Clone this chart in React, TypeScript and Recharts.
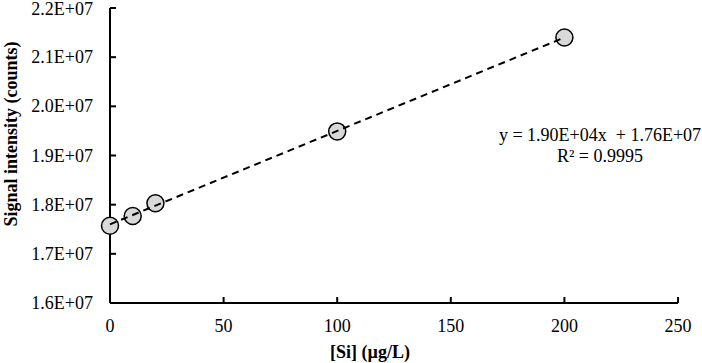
import { Scatter, ScatterChart, XAxis, YAxis } from 'recharts'

const concentrations = [0, 10, 20, 100, 200]
const signals = [1.757e7, 1.777e7, 1.803e7, 1.949e7, 2.14e7]

// fitted trendline endpoints (from the equation shown on the chart)
const trendX = [0, 200]
const trendY = [1.76e7, 2.14e7]

const xTicks = [0, 50, 100, 150, 200, 250]
const yTicks = [1.6e7, 1.7e7, 1.8e7, 1.9e7, 2.0e7, 2.1e7, 2.2e7]

const equationText = 'y = 1.90E+04x  + 1.76E+07'
const r2Text = 'R² = 0.9995'

const points = concentrations.map((x, i) => ({ x, y: signals[i] }))
const trend = trendX.map((x, i) => ({ x, y: trendY[i] }))

const FONT = '"Liberation Serif", "Times New Roman", serif'

function formatSci(value: number): string {
  return `${(value / 1e7).toFixed(1)}E+07`
}

function XTick(props: any): React.JSX.Element {
  return (
    <text x={props.x} y={props.y + 13} textAnchor="middle" fill="#000" fontSize={18} fontFamily={FONT}>
      {props.payload.value}
    </text>
  )
}

function YTick(props: any): React.JSX.Element {
  return (
    <text x={props.x} y={props.y + 6} textAnchor="end" fill="#000" fontSize={18} fontFamily={FONT}>
      {formatSci(props.payload.value)}
    </text>
  )
}

export default function App(): React.JSX.Element {
  return (
    <div style={{ position: 'absolute', left: 0, top: 0, width: 702, height: 363, background: '#fff' }}>
      <ScatterChart width={702} height={363} margin={{ top: 8, right: 24, left: 20, bottom: 30 }}>
        <XAxis
          type="number"
          dataKey="x"
          domain={[0, 250]}
          ticks={xTicks}
          height={30}
          stroke="#000"
          strokeWidth={2}
          tickSize={-6}
          tickMargin={22}
          tick={<XTick />}
        />
        <YAxis
          type="number"
          dataKey="y"
          domain={[1.6e7, 2.2e7]}
          ticks={yTicks}
          width={90}
          stroke="#000"
          strokeWidth={2}
          tickSize={-6}
          tickMargin={23}
          tick={<YTick />}
        />
        <Scatter
          data={points}
          isAnimationActive={false}
          fill="#d9d9d9"
          stroke="#000"
          strokeWidth={1.5}
          shape={(props: any) => (
            <circle cx={props.cx} cy={props.cy} r={8.5} fill="#d9d9d9" stroke="#000" strokeWidth={1.5} />
          )}
        />
        <Scatter
          data={trend}
          isAnimationActive={false}
          line={{ stroke: '#000', strokeWidth: 2, strokeDasharray: '7 5' }}
          shape={() => <g />}
        />
      </ScatterChart>
      <svg
        width={702}
        height={363}
        style={{ position: 'absolute', left: 0, top: 0, pointerEvents: 'none' }}
        fontFamily={FONT}
        fontSize={18}
      >
        <text x={600} y={141} textAnchor="middle" fill="#000" style={{ whiteSpace: 'pre' }}>
          {equationText}
        </text>
        <text x={600} y={162} textAnchor="middle" fill="#000">
          {r2Text}
        </text>
        <text x={370} y={358} textAnchor="middle" fontWeight="bold" fill="#000">
          [Si] (µg/L)
        </text>
        <text
          x={0}
          y={0}
          transform="translate(17 134) rotate(-90)"
          textAnchor="middle"
          fontWeight="bold"
          fill="#000"
        >
          Signal intensity (counts)
        </text>
      </svg>
    </div>
  )
}
